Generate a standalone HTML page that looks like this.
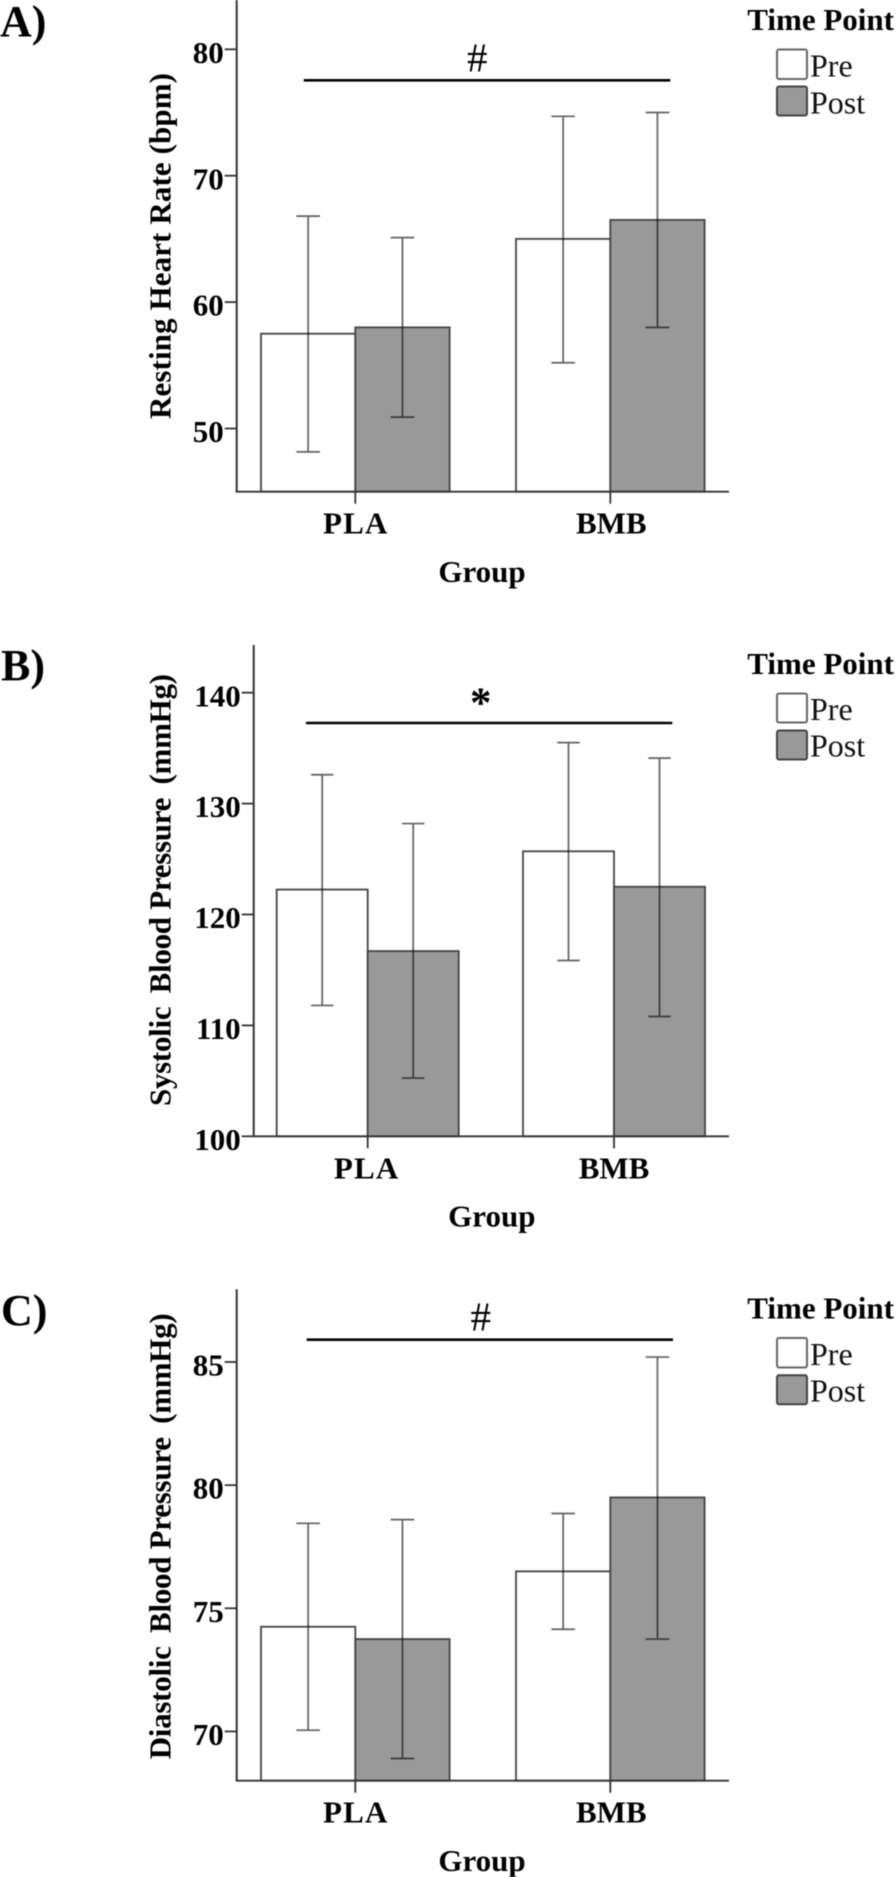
<!DOCTYPE html>
<html lang="en">
<head>
<meta charset="utf-8">
<title>Resting heart rate and blood pressure by group and time point</title>
<style>
  html, body { margin: 0; padding: 0; background: #ffffff; }
  svg { display: block; filter: blur(0.4px); }
  text { font-family: "Liberation Serif", serif; fill: #000000; }
  .bold { font-weight: 700; }
  .axis-title, .tick-label, .cat-label, .legend-title { font-size: 31px; font-weight: 700; }
  .panel-label { font-size: 44px; font-weight: 700; }
  .legend-label { font-size: 32px; fill: #111111; }
  .sig-line { stroke: #000000; stroke-width: 2.6; }
  .swatch-pre { fill: #ffffff; stroke: #666666; stroke-width: 2; }
  .swatch-post { fill: #999999; stroke: #444444; stroke-width: 2; }
</style>
</head>
<body>
<svg id="figure" xmlns="http://www.w3.org/2000/svg" width="896" height="1877" viewBox="0 0 896 1877">
  <rect x="0" y="0" width="896" height="1877" fill="#ffffff"></rect>

  <g id="panel-a">
    <text class="panel-label" x="0" y="36">A)</text>
    <text class="axis-title" transform="translate(170.7,419) rotate(-90)" textLength="346" lengthAdjust="spacing">Resting Heart Rate (bpm)</text>
    <text class="axis-title" x="482" y="582" text-anchor="middle">Group</text>
    <line class="sig-line" x1="303.7" y1="80.3" x2="670.3" y2="80.3"></line>
    <text x="477.3" y="71.7" text-anchor="middle" font-size="41">#</text>
    <text class="legend-title" x="747.3" y="30">Time Point</text>
    <rect class="swatch-pre" x="777" y="49.5" width="30" height="29.5" rx="2"></rect>
    <text class="legend-label" x="810" y="76.7">Pre</text>
    <rect class="swatch-post" x="777" y="86.5" width="30" height="29" rx="2"></rect>
    <text class="legend-label" x="810" y="113.3">Post</text>
  </g>

  <g id="panel-b">
    <text class="panel-label" x="1" y="680">B)</text>
    <text class="axis-title" transform="translate(170.7,1106) rotate(-90)" textLength="432" lengthAdjust="spacing">Systolic&#8201; Blood Pressure&#8201; (mmHg)</text>
    <text class="axis-title" x="491.8" y="1226.7" text-anchor="middle">Group</text>
    <line class="sig-line" x1="306" y1="723" x2="672.3" y2="723"></line>
    <text class="bold" x="480.7" y="717" text-anchor="middle" font-size="43">*</text>
    <text class="legend-title" x="747.3" y="674">Time Point</text>
    <rect class="swatch-pre" x="777" y="693.5" width="30" height="29" rx="2"></rect>
    <text class="legend-label" x="810" y="720">Pre</text>
    <rect class="swatch-post" x="777" y="730.5" width="30" height="29" rx="2"></rect>
    <text class="legend-label" x="810" y="756.7">Post</text>
  </g>

  <g id="panel-c">
    <text class="panel-label" x="1" y="1325">C)</text>
    <text class="axis-title" transform="translate(170.7,1759.3) rotate(-90)" textLength="446" lengthAdjust="spacing">Diastolic&#8201; Blood Pressure&#8201; (mmHg)</text>
    <text class="axis-title" x="482" y="1871" text-anchor="middle">Group</text>
    <line class="sig-line" x1="306.7" y1="1339.7" x2="673" y2="1339.7"></line>
    <text x="480.7" y="1330.7" text-anchor="middle" font-size="41">#</text>
    <text class="legend-title" x="747.3" y="1318.3">Time Point</text>
    <rect class="swatch-pre" x="777" y="1338" width="30" height="29.5" rx="2"></rect>
    <text class="legend-label" x="810" y="1365">Pre</text>
    <rect class="swatch-post" x="777" y="1375.3" width="30" height="29" rx="2"></rect>
    <text class="legend-label" x="810" y="1401.7">Post</text>
  </g>
</svg>

<script>
// Categories shared by all panels
const groups = ['PLA', 'BMB'];
const timePoints = ['pre', 'post'];

// Panel A: resting heart rate (bpm)
const hrTicks = [50, 60, 70, 80];
const hrPre = [57.5, 65.0];
const hrPost = [58.0, 66.5];
const hrPreLow = [48.15, 55.2];
const hrPreHigh = [66.8, 74.7];
const hrPostLow = [50.9, 58.0];
const hrPostHigh = [65.1, 75.0];

// Panel B: systolic blood pressure (mmHg)
const sbpTicks = [100, 110, 120, 130, 140];
const sbpPre = [122.25, 125.7];
const sbpPost = [116.7, 122.5];
const sbpPreLow = [111.8, 115.85];
const sbpPreHigh = [132.6, 135.5];
const sbpPostLow = [105.25, 110.8];
const sbpPostHigh = [128.2, 134.1];

// Panel C: diastolic blood pressure (mmHg)
const dbpTicks = [70, 75, 80, 85];
const dbpPre = [74.25, 76.5];
const dbpPost = [73.75, 79.5];
const dbpPreLow = [70.05, 74.15];
const dbpPreHigh = [78.45, 78.85];
const dbpPostLow = [68.9, 73.75];
const dbpPostHigh = [78.6, 85.2];

const SVG_NS = 'http://www.w3.org/2000/svg';

function make(tag, parent, attrs, text) {
  const node = document.createElementNS(SVG_NS, tag);
  Object.keys(attrs).forEach(function (k) { node.setAttribute(k, attrs[k]); });
  if (text !== undefined) node.textContent = text;
  parent.appendChild(node);
  return node;
}

function drawPanel(panelId, frame, ticks, seriesMeans, seriesLows, seriesHighs) {
  const root = document.getElementById(panelId);
  const yScale = function (v) { return frame.yBottom - (v - frame.yMin) * frame.pxPerUnit; };
  const xCenter = function (i) { return frame.firstCenter + i * frame.groupStep; };

  const barsLayer = make('g', root, {});
  
  

  groups.forEach(function (group, g) {
    timePoints.forEach(function (tp, s) {
      const left = xCenter(g) + (s - 1) * frame.barWidth;
      const top = yScale(seriesMeans[s][g]);
      const bar = make('rect', barsLayer, {
        x: left,
        y: top,
        width: frame.barWidth,
        height: frame.yBottom - top,
        fill: s === 0 ? '#ffffff' : '#999999',
        stroke: '#444444',
        'stroke-width': 1.8
      });
      
      
    });
  });

  const errorLayer = make('g', root, {});
  
  

  groups.forEach(function (group, g) {
    timePoints.forEach(function (tp, s) {
      const cx = xCenter(g) + (s - 0.5) * frame.barWidth;
      const hi = yScale(seriesHighs[s][g]);
      const lo = yScale(seriesLows[s][g]);
      const errorPath = make('path', errorLayer, {
        d: 'M' + cx + ' ' + hi + 'V' + lo +
           'M' + (cx - frame.capHalf) + ' ' + hi + 'H' + (cx + frame.capHalf) +
           'M' + (cx - frame.capHalf) + ' ' + lo + 'H' + (cx + frame.capHalf),
        fill: 'none',
        stroke: '#000000',
        'stroke-opacity': 0.62,
        'stroke-width': 1.7
      });
      
      
    });
  });

  const axisColor = '#333333';

  const yAxis = make('line', root, {
    x1: frame.axisX, y1: frame.axisTop, x2: frame.axisX, y2: frame.yBottom,
    stroke: axisColor, 'stroke-width': 2
  });
  
  

  const xAxis = make('line', root, {
    x1: frame.axisX - 1, y1: frame.yBottom, x2: frame.axisRight, y2: frame.yBottom,
    stroke: axisColor, 'stroke-width': 1.8
  });
  
  

  ticks.forEach(function (t) {
    const y = yScale(t);
    const tick = make('line', root, {
      x1: frame.axisX - frame.tickLen, y1: y, x2: frame.axisX, y2: y,
      stroke: axisColor, 'stroke-width': 1.8
    });
    
    
    const label = make('text', root, {
      class: 'tick-label',
      x: frame.axisX - frame.tickLen - 1,
      y: y + 13.6,
      'text-anchor': 'end'
    }, String(t));
    
    
  });

  groups.forEach(function (group, g) {
    const cx = xCenter(g);
    const tick = make('line', root, {
      x1: cx, y1: frame.yBottom, x2: cx, y2: frame.yBottom + 12,
      stroke: axisColor, 'stroke-width': 1.8
    });
    
    
    const label = make('text', root, {
      class: 'cat-label',
      x: cx + frame.labelShift[g],
      y: frame.yBottom + 42,
      'text-anchor': 'middle',
      'letter-spacing': group === 'PLA' ? '1.2' : '0'
    }, group);
    
    
  });
}

drawPanel('panel-a',
  { yMin: 45, yBottom: 491.7, pxPerUnit: 12.64, axisX: 236.7, axisTop: 0, axisRight: 729,
    firstCenter: 355.3, groupStep: 255, barWidth: 94.3, capHalf: 11.8, tickLen: 12,
    labelShift: [0.5, 1] },
  hrTicks, [hrPre, hrPost], [hrPreLow, hrPostLow], [hrPreHigh, hrPostHigh]);

drawPanel('panel-b',
  { yMin: 100, yBottom: 1136.3, pxPerUnit: 11.09, axisX: 253.7, axisTop: 645, axisRight: 729,
    firstCenter: 367.7, groupStep: 246.3, barWidth: 91, capHalf: 11.2, tickLen: 12,
    labelShift: [-1, 0] },
  sbpTicks, [sbpPre, sbpPost], [sbpPreLow, sbpPostLow], [sbpPreHigh, sbpPostHigh]);

drawPanel('panel-c',
  { yMin: 68, yBottom: 1780.7, pxPerUnit: 24.63, axisX: 236.7, axisTop: 1289.3, axisRight: 729,
    firstCenter: 355.3, groupStep: 255, barWidth: 94.3, capHalf: 11.8, tickLen: 12,
    labelShift: [0.5, 1] },
  dbpTicks, [dbpPre, dbpPost], [dbpPreLow, dbpPostLow], [dbpPreHigh, dbpPostHigh]);
</script>
</body>
</html>
